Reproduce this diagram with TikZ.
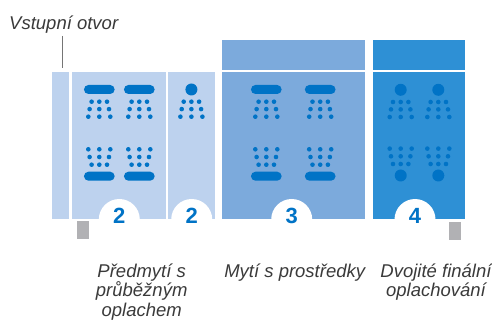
\documentclass[tikz,border=0pt]{standalone}
\usepackage{fontspec}
\setmainfont{Liberation Sans}
\definecolor{lightb}{HTML}{BDD2EE}
\definecolor{midb}{HTML}{7CAADC}
\definecolor{deepb}{HTML}{2E90D5}
\definecolor{iconb}{HTML}{0073C6}
\definecolor{grayb}{HTML}{B1B1B4}
\definecolor{txt}{HTML}{3A3A3A}
\tikzset{
  panel/.style={rectangle, draw=none, inner sep=0pt, outer sep=0pt},
  bar/.style={rectangle, rounded corners=4.5pt, fill=iconb, draw=none,
    minimum width=30.7pt, minimum height=9pt, inner sep=0pt},
  badge/.style={circle, fill=white, draw=none, minimum size=41pt, inner sep=0pt},
  num/.style={font=\bfseries\fontsize{22}{22}\selectfont, text=iconb, inner sep=0pt, anchor=base},
  lbl/.style={font=\itshape\fontsize{18.5}{19.5}\selectfont, text=txt, inner sep=0pt, align=center, anchor=base},
  foot/.style={rectangle, fill=grayb, draw=none, inner sep=0pt},
  spraydots/.pic={
    \foreach \dx in {-7.7,0,7.7} \fill[iconb] (\dx,12.2) circle[radius=2.3pt];
    \foreach \dx in {-9.7,0,9.7} \fill[iconb] (\dx,19.6) circle[radius=2.3pt];
    \foreach \dx in {-11,0,11} \fill[iconb] (\dx,27.2) circle[radius=2.3pt];
  },
  spraydotsup/.pic={
    \foreach \dx in {-7.7,0,7.7} \fill[iconb] (\dx,-11.5) circle[radius=2.3pt];
    \foreach \dx in {-9.7,0,9.7} \fill[iconb] (\dx,-19.2) circle[radius=2.3pt];
    \foreach \dx in {-11,0,11} \fill[iconb] (\dx,-26.9) circle[radius=2.3pt];
  },
  showertop/.pic={ \node[bar] {}; \pic {spraydots}; },
  showerbot/.pic={ \node[bar] {}; \pic {spraydotsup}; },
  headtop/.pic={ \fill[iconb] (0,0) circle[radius=6pt]; \pic {spraydots}; },
  headbot/.pic={ \fill[iconb] (0,0) circle[radius=6pt]; \pic {spraydotsup}; },
}
\begin{document}
\begin{tikzpicture}[x=1pt,y=-1pt]
\useasboundingbox (0,0) rectangle (492,320);
% panels
\node[panel, fill=lightb, minimum width=17pt, minimum height=147pt] (p0) at (60.8,145.5) {};
\node[panel, fill=lightb, minimum width=94.3pt, minimum height=147pt] (p1) at (118.85,145.5) {};
\node[panel, fill=lightb, minimum width=46.7pt, minimum height=147pt] (p2) at (191.65,145.5) {};
\node[panel, fill=midb, minimum width=143.3pt, minimum height=147pt] (p3) at (293.35,145.5) {};
\node[panel, fill=midb, minimum width=143.3pt, minimum height=30pt] (t3) at (293.35,55) {};
\node[panel, fill=deepb, minimum width=92.3pt, minimum height=147pt] (p4) at (418.85,145.5) {};
\node[panel, fill=deepb, minimum width=92.3pt, minimum height=30pt] (t4) at (418.85,55) {};
% icons
\pic at (99.3,89.5) {showertop};
\pic at (139.3,89.5) {showertop};
\pic at (99.3,176.2) {showerbot};
\pic at (139.3,176.2) {showerbot};
\pic at (191.4,89.5) {headtop};
\pic at (266.3,89.5) {showertop};
\pic at (320.2,89.5) {showertop};
\pic at (266.3,176.2) {showerbot};
\pic at (320.2,176.2) {showerbot};
\pic at (400.7,89.8) {headtop};
\pic at (438.3,89.8) {headtop};
\pic at (400.7,175.5) {headbot};
\pic at (438.3,175.5) {headbot};
% badges
\node[badge] (c1) at (119.3,219.5) {};
\node[badge] (c2) at (191.7,219.5) {};
\node[badge] (c3) at (291.7,219.5) {};
\node[badge] (c4) at (415,219.5) {};
\node[num] (n1) at (119.3,223.3) {2};
\node[num] (n2) at (191.7,223.3) {2};
\node[num] (n3) at (291.7,223.3) {3};
\node[num] (n4) at (415,223.3) {4};
% feet
\node[foot, minimum width=12.3pt, minimum height=18pt] (f1) at (82.85,230) {};
\node[foot, minimum width=12pt, minimum height=18.3pt] (f2) at (455,230.85) {};
% entry label
\node[lbl, anchor=base west] (vlab) at (9,29.3) {Vstupní otvor};
\coordinate (vt) at (62.3,36);
\coordinate (vb) at (62.3,68);
\draw[draw=txt!70, line width=0.8pt] (vt) -- (vb);
% stage labels (base anchor of a multi-line node is its last line)
\node[lbl] (l1) at (141.7,316.3) {Předmytí s\\průběžným\\oplachem};
\node[lbl] (l2) at (294.7,277.3) {Mytí s prostředky};
\node[lbl] (l3) at (436,296.8) {Dvojité finální\\oplachování};
\end{tikzpicture}
\end{document}
